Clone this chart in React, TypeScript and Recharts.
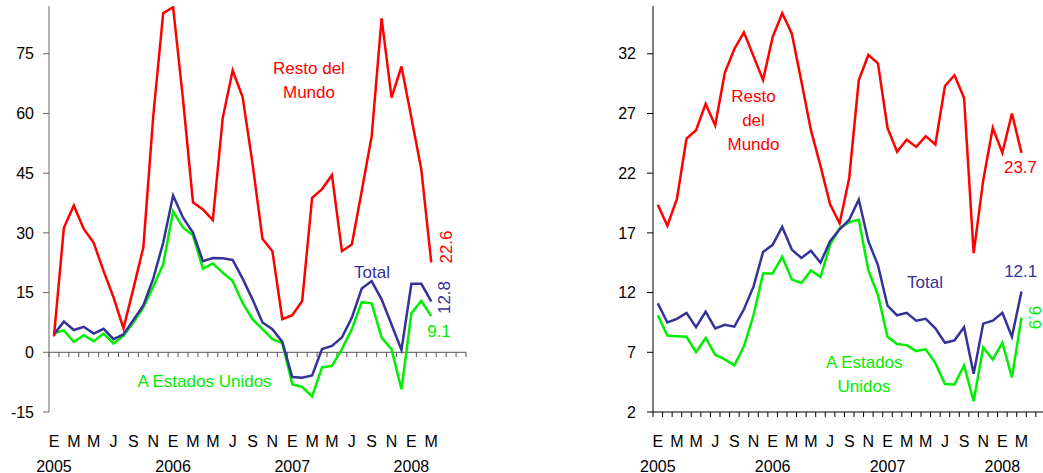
import { Line, LineChart, ReferenceLine, XAxis, YAxis } from "recharts";

const FONT = "Arial, 'Liberation Sans', sans-serif";
const RED = "#ff0000";
const BLUE = "#333399";
const GREEN = "#00ee00";

// monthly, Jan 2005 .. Mar 2008 (42 slots on the axis, up to Jun 2008)
const nSlots = 42;
const tickLetters = ["E", "M", "M", "J", "S", "N", "E", "M", "M", "J", "S", "N", "E", "M", "M", "J", "S", "N", "E", "M"];
const yearLabels = ["2005", "2006", "2007", "2008"];

const leftResto = [4.0, 31.3, 36.9, 31.0, 27.5, 20.4, 13.8, 6.0, 16.0, 26.3, 59.3, 85.2, 86.7, 63.5, 37.7, 35.9, 33.2, 58.9, 70.8, 64.1, 47.4, 28.5, 25.4, 8.3, 9.3, 12.9, 38.8, 41.0, 44.5, 25.4, 27.1, 40.5, 54.3, 83.9, 64.0, 71.8, 58.9, 45.9, 22.6];
const leftTotal = [4.5, 7.7, 5.6, 6.4, 4.7, 5.9, 3.3, 4.5, 8.1, 11.8, 18.5, 27.5, 39.4, 33.8, 30.1, 22.9, 23.7, 23.6, 23.2, 18.5, 13.3, 7.5, 5.8, 2.6, -6.2, -6.4, -5.8, 0.8, 1.6, 3.7, 8.7, 16.0, 17.9, 13.3, 7.0, 0.6, 17.2, 17.2, 12.8];
const leftEEUU = [4.8, 5.5, 2.6, 4.3, 2.8, 4.7, 2.2, 4.1, 7.5, 11.2, 16.5, 22.1, 35.4, 31.3, 29.4, 21.0, 22.3, 20.0, 17.9, 12.4, 8.3, 5.8, 3.3, 2.3, -8.0, -8.7, -11.1, -3.8, -3.4, 0.8, 5.8, 12.6, 12.3, 3.7, 0.8, -9.3, 9.8, 12.9, 9.1];

const rightResto = [19.35, 17.6, 19.85, 24.9, 25.6, 27.8, 26.0, 30.4, 32.4, 33.8, 31.8, 29.8, 33.4, 35.4, 33.7, 29.7, 25.6, 22.6, 19.4, 17.8, 21.6, 29.8, 31.9, 31.2, 25.8, 23.8, 24.8, 24.2, 25.1, 24.4, 29.3, 30.2, 28.3, 15.3, 21.4, 25.8, 23.7, 27.0, 23.7];
const rightTotal = [11.1, 9.5, 9.8, 10.3, 9.1, 10.4, 9.0, 9.3, 9.15, 10.6, 12.5, 15.4, 16.0, 17.5, 15.6, 14.9, 15.5, 14.5, 16.3, 17.3, 18.1, 19.8, 16.3, 14.3, 10.9, 10.1, 10.3, 9.65, 9.8, 9.0, 7.8, 8.0, 9.1, 5.2, 9.4, 9.65, 10.3, 8.3, 12.1];
const rightEEUU = [10.1, 8.4, 8.35, 8.3, 7.0, 8.2, 6.8, 6.4, 5.9, 7.5, 10.1, 13.6, 13.6, 15.0, 13.1, 12.8, 13.85, 13.3, 16.0, 17.4, 17.9, 18.1, 13.85, 11.8, 8.3, 7.7, 7.6, 7.1, 7.25, 6.1, 4.35, 4.3, 5.9, 2.9, 7.4, 6.4, 7.8, 4.9, 9.9];

const leftTicks = [-15, 0, 15, 30, 45, 60, 75];
const rightTicks = [2, 7, 12, 17, 22, 27, 32];

const toRows = (resto: number[], total: number[], eeuu: number[]) =>
  resto.map((v, i) => ({ i, resto: v, total: total[i], eeuu: eeuu[i] }));

const leftData = toRows(leftResto, leftTotal, leftEEUU);
const rightData = toRows(rightResto, rightTotal, rightEEUU);

const labelIdx = tickLetters.map((_, k) => k * 2);
const markIdx = Array.from({ length: nSlots + 1 }, (_, k) => k - 0.5);
const last = (a: number[]) => a[a.length - 1].toFixed(1);

function MonthTick(props: any) {
  const { x, y, payload } = props;
  const idx = payload.value as number;
  const year = idx % 12 === 0 ? yearLabels[idx / 12] : null;
  return (
    <g>
      <text x={x} y={y + 33} textAnchor="middle" fontSize={16} fill="#000" fontFamily={FONT}>
        {tickLetters[idx / 2]}
      </text>
      {year && (
        <text x={x} y={y + 57.5} textAnchor="middle" fontSize={16} fill="#000" fontFamily={FONT}>
          {year}
        </text>
      )}
    </g>
  );
}

function lines() {
  return [
    <Line key="g" dataKey="eeuu" stroke={GREEN} strokeWidth={2.5} dot={false} isAnimationActive={false} />,
    <Line key="b" dataKey="total" stroke={BLUE} strokeWidth={2.5} dot={false} isAnimationActive={false} />,
    <Line key="r" dataKey="resto" stroke={RED} strokeWidth={2.5} dot={false} isAnimationActive={false} />,
  ];
}

const txt = { fontFamily: FONT, fontSize: 17 };

function LeftChart() {
  return (
    <div style={{ position: "absolute", left: 0, top: 0, width: 520, height: 473 }}>
      <LineChart width={520} height={473} data={leftData} margin={{ top: 6, right: 54, bottom: 0, left: 0 }}>
        <XAxis
          dataKey="i"
          type="number"
          domain={[-0.5, nSlots - 0.5]}
          ticks={labelIdx}
          interval={0}
          axisLine={false}
          tickLine={false}
          tickSize={0}
          height={61}
          tick={<MonthTick />}
        />
        <YAxis
          domain={[-15, 87]}
          ticks={leftTicks}
          interval={0}
          width={49}
          allowDataOverflow
          axisLine={{ stroke: "#666" }}
          tickLine={{ stroke: "#666" }}
          tickSize={6}
          tickMargin={9}
          tick={{ fill: "#000", fontSize: 16, fontFamily: FONT }}
        />
        <ReferenceLine y={0} stroke="#555" />
        {markIdx.map((m) => (
          <ReferenceLine key={m} segment={[{ x: m, y: 0 }, { x: m, y: -1.2 }]} stroke="#555" />
        ))}
        {lines()}
      </LineChart>
      <svg width={520} height={473} style={{ position: "absolute", left: 0, top: 0 }}>
        <g {...txt} fill={RED} textAnchor="middle">
          <text x={309} y={74}>Resto del</text>
          <text x={309} y={98}>Mundo</text>
          <text transform="translate(446,247) rotate(-90)" dominantBaseline="central">{last(leftResto)}</text>
        </g>
        <g {...txt} fill={BLUE} textAnchor="middle">
          <text x={372} y={278}>Total</text>
          <text transform="translate(444,297.5) rotate(-90)" dominantBaseline="central">{last(leftTotal)}</text>
        </g>
        <g {...txt} fill={GREEN} textAnchor="middle">
          <text x={204.5} y={386.7}>A Estados Unidos</text>
          <text x={439} y={336.7}>{last(leftEEUU)}</text>
        </g>
      </svg>
    </div>
  );
}

function RightChart() {
  const ox = 600;
  return (
    <div style={{ position: "absolute", left: ox, top: 0, width: 470, height: 473 }}>
      <LineChart width={470} height={473} data={rightData} margin={{ top: 6, right: 15, bottom: 0, left: 0 }}>
        <XAxis
          dataKey="i"
          type="number"
          domain={[-0.5, nSlots - 0.5]}
          ticks={labelIdx}
          interval={0}
          axisLine={{ stroke: "#000" }}
          tickLine={false}
          tickSize={0}
          height={61}
          tick={<MonthTick />}
        />
        <YAxis
          domain={[2, 36]}
          ticks={rightTicks}
          interval={0}
          width={53}
          allowDataOverflow
          axisLine={{ stroke: "#000" }}
          tickLine={{ stroke: "#000" }}
          tickSize={6}
          tickMargin={11}
          tick={{ fill: "#000", fontSize: 16, fontFamily: FONT }}
        />
        {markIdx.map((m) => (
          <ReferenceLine
            key={m}
            segment={[{ x: m, y: 2 }, { x: m, y: 1.58 }]}
            stroke="#000"
            ifOverflow="visible"
          />
        ))}
        {lines()}
      </LineChart>
      <svg width={470} height={473} style={{ position: "absolute", left: 0, top: 0 }}>
        <g {...txt} fill={RED} textAnchor="middle">
          <text x={753.5 - ox} y={101.7}>Resto</text>
          <text x={753.5 - ox} y={126}>del</text>
          <text x={753.5 - ox} y={150}>Mundo</text>
          <text x={1020.5 - ox} y={173.3}>{last(rightResto)}</text>
        </g>
        <g {...txt} fill={BLUE} textAnchor="middle">
          <text x={925 - ox} y={288.3}>Total</text>
          <text x={1020.7 - ox} y={276.7}>{last(rightTotal)}</text>
        </g>
        <g {...txt} fill={GREEN} textAnchor="middle">
          <text x={864.3 - ox} y={368.3}>A Estados</text>
          <text x={864 - ox} y={391.7}>Unidos</text>
          <text transform={`translate(${1034 - ox},317.5) rotate(90)`} dominantBaseline="central">{last(rightEEUU)}</text>
        </g>
      </svg>
    </div>
  );
}

export default function App() {
  return (
    <div
      style={{
        position: "absolute",
        left: 0,
        top: 0,
        width: 1043,
        height: 473,
        overflow: "hidden",
        background: "#fff",
        fontFamily: FONT,
      }}
    >
      <LeftChart />
      <RightChart />
    </div>
  );
}
